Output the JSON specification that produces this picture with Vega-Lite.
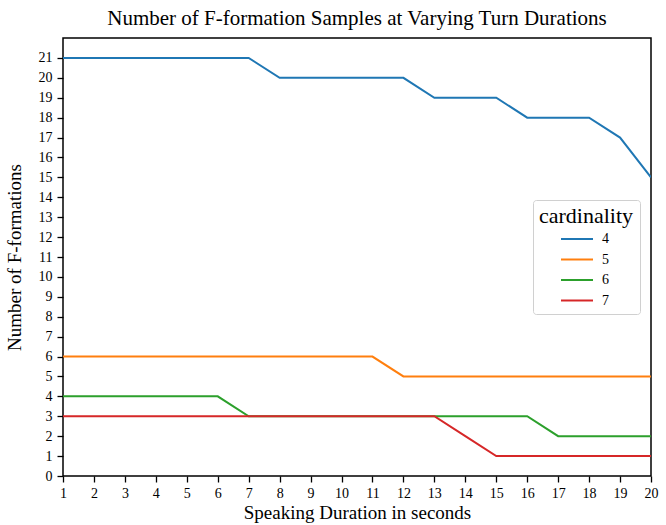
{
  "$schema": "https://vega.github.io/schema/vega-lite/v6.json",
  "width": 588,
  "height": 438,
  "autosize": {"type": "none"},
  "padding": {"left": 63, "top": 38, "right": 15, "bottom": 49},
  "background": "white",
  "title": {"text": "Number of F-formation Samples at Varying Turn Durations", "font": "Liberation Serif", "fontSize": 21, "fontWeight": "normal", "color": "black", "offset": 9},
  "config": {
    "view": {"stroke": "black", "strokeWidth": 1.5},
    "font": "Liberation Serif",
    "axis": {"grid": false, "domain": false, "tickColor": "black", "tickSize": 6, "tickWidth": 1.3, "labelColor": "black", "titleColor": "black", "labelFont": "Liberation Serif", "titleFont": "Liberation Serif", "labelFontSize": 14, "titleFontSize": 20, "titleFontWeight": "normal"}
  },
  "data": {"values": [
    {"t":1,"c":"4","n":21},{"t":2,"c":"4","n":21},{"t":3,"c":"4","n":21},{"t":4,"c":"4","n":21},{"t":5,"c":"4","n":21},{"t":6,"c":"4","n":21},{"t":7,"c":"4","n":21},{"t":8,"c":"4","n":20},{"t":9,"c":"4","n":20},{"t":10,"c":"4","n":20},{"t":11,"c":"4","n":20},{"t":12,"c":"4","n":20},{"t":13,"c":"4","n":19},{"t":14,"c":"4","n":19},{"t":15,"c":"4","n":19},{"t":16,"c":"4","n":18},{"t":17,"c":"4","n":18},{"t":18,"c":"4","n":18},{"t":19,"c":"4","n":17},{"t":20,"c":"4","n":15},
    {"t":1,"c":"5","n":6},{"t":2,"c":"5","n":6},{"t":3,"c":"5","n":6},{"t":4,"c":"5","n":6},{"t":5,"c":"5","n":6},{"t":6,"c":"5","n":6},{"t":7,"c":"5","n":6},{"t":8,"c":"5","n":6},{"t":9,"c":"5","n":6},{"t":10,"c":"5","n":6},{"t":11,"c":"5","n":6},{"t":12,"c":"5","n":5},{"t":13,"c":"5","n":5},{"t":14,"c":"5","n":5},{"t":15,"c":"5","n":5},{"t":16,"c":"5","n":5},{"t":17,"c":"5","n":5},{"t":18,"c":"5","n":5},{"t":19,"c":"5","n":5},{"t":20,"c":"5","n":5},
    {"t":1,"c":"6","n":4},{"t":2,"c":"6","n":4},{"t":3,"c":"6","n":4},{"t":4,"c":"6","n":4},{"t":5,"c":"6","n":4},{"t":6,"c":"6","n":4},{"t":7,"c":"6","n":3},{"t":8,"c":"6","n":3},{"t":9,"c":"6","n":3},{"t":10,"c":"6","n":3},{"t":11,"c":"6","n":3},{"t":12,"c":"6","n":3},{"t":13,"c":"6","n":3},{"t":14,"c":"6","n":3},{"t":15,"c":"6","n":3},{"t":16,"c":"6","n":3},{"t":17,"c":"6","n":2},{"t":18,"c":"6","n":2},{"t":19,"c":"6","n":2},{"t":20,"c":"6","n":2},
    {"t":1,"c":"7","n":3},{"t":2,"c":"7","n":3},{"t":3,"c":"7","n":3},{"t":4,"c":"7","n":3},{"t":5,"c":"7","n":3},{"t":6,"c":"7","n":3},{"t":7,"c":"7","n":3},{"t":8,"c":"7","n":3},{"t":9,"c":"7","n":3},{"t":10,"c":"7","n":3},{"t":11,"c":"7","n":3},{"t":12,"c":"7","n":3},{"t":13,"c":"7","n":3},{"t":14,"c":"7","n":2},{"t":15,"c":"7","n":1},{"t":16,"c":"7","n":1},{"t":17,"c":"7","n":1},{"t":18,"c":"7","n":1},{"t":19,"c":"7","n":1},{"t":20,"c":"7","n":1}
  ]},
  "mark": {"type": "line", "strokeWidth": 2, "clip": true},
  "encoding": {
    "x": {"field": "t", "type": "quantitative", "title": "Speaking Duration in seconds", "scale": {"domain": [1, 20], "nice": false, "zero": false}, "axis": {"values": [1,2,3,4,5,6,7,8,9,10,11,12,13,14,15,16,17,18,19,20], "format": "d", "labelPadding": 4, "titleY": 27, "titleFontSize": 19, "labelFlush": false}},
    "y": {"field": "n", "type": "quantitative", "title": "Number of F-formations", "scale": {"domain": [0, 22], "nice": false}, "axis": {"values": [0,1,2,3,4,5,6,7,8,9,10,11,12,13,14,15,16,17,18,19,20,21], "format": "d", "labelPadding": 5, "titleX": -39, "titleFontSize": 19, "labelFlush": false}},
    "color": {"field": "c", "type": "nominal", "title": "cardinality", "scale": {"domain": ["4","5","6","7"], "range": ["#1f77b4", "#ff7f0e", "#2ca02c", "#d62728"]},
      "legend": {"orient": "none", "legendX": 470, "legendY": 162, "symbolType": "M-1.6,0H1.6", "symbolSize": 400, "symbolStrokeWidth": 2, "symbolFillColor": "transparent", "symbolOffset": 3, "titleFont": "Liberation Serif", "titleFontSize": 22, "titleFontWeight": "normal", "titleColor": "black", "labelFont": "Liberation Serif", "labelFontSize": 14, "labelColor": "black", "strokeColor": "#d0d0d0", "cornerRadius": 3, "padding": 6, "rowPadding": 2.5, "labelOffset": 14, "titleAnchor": "middle", "titlePadding": 0, "fillColor": "white"}}
  }
}
